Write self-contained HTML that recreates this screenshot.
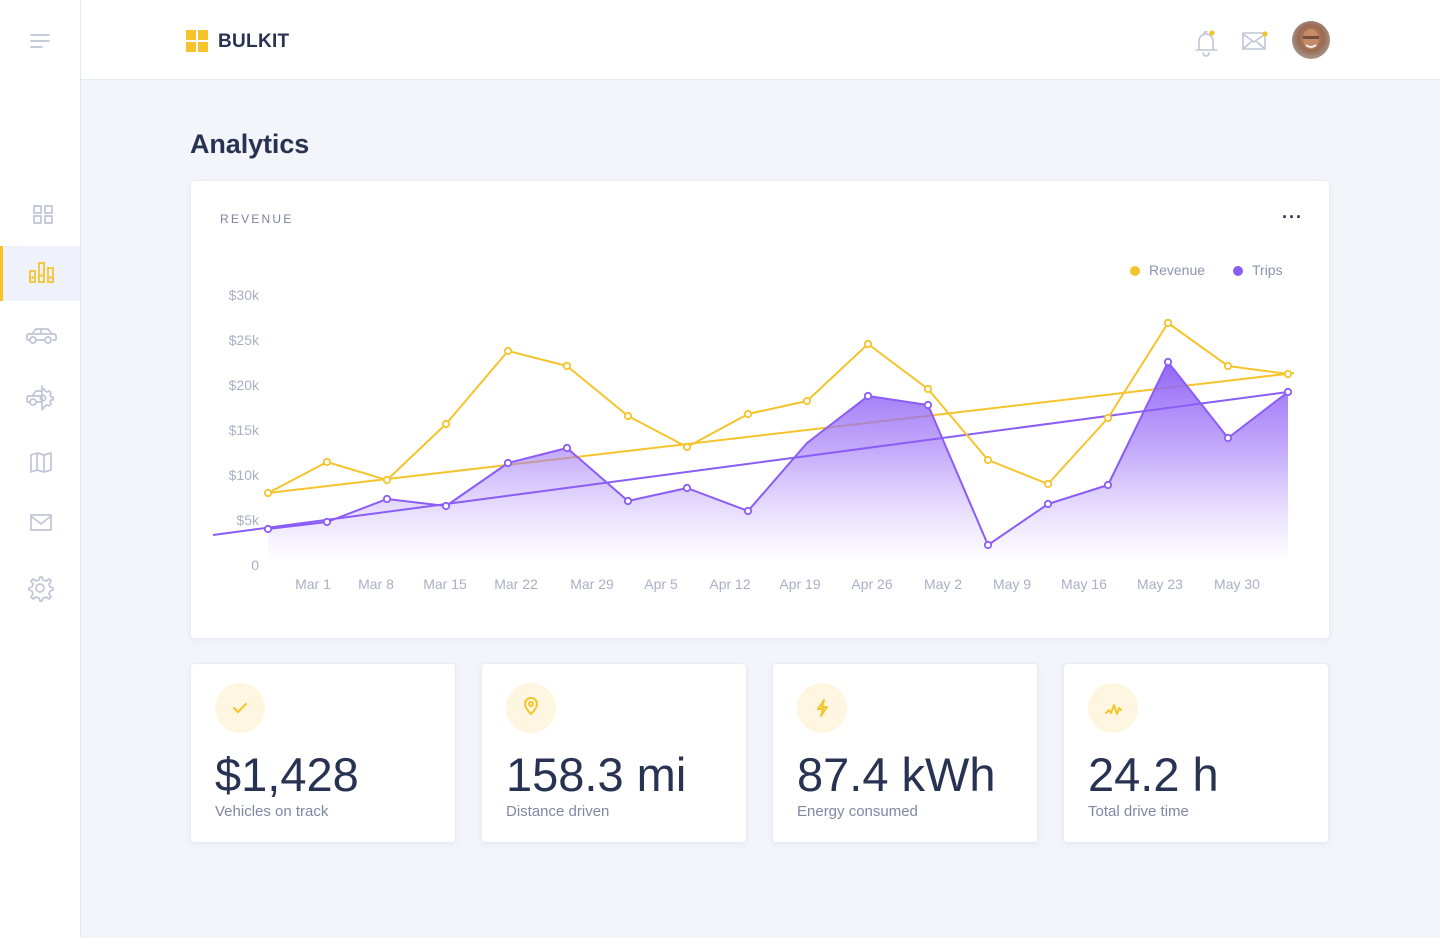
<!DOCTYPE html>
<html>
<head>
<meta charset="utf-8">
<style>
*{margin:0;padding:0;box-sizing:border-box;}
html,body{width:1440px;height:938px;overflow:hidden;background:#f4f5fa;font-family:"Liberation Sans",sans-serif;}
.sidebar{position:absolute;left:0;top:0;width:81px;height:938px;background:#fff;border-right:1px solid #e6e9f3;}
.header{position:absolute;left:81px;top:0;width:1359px;height:80px;background:#fff;border-bottom:1px solid #e6e9f3;}
.active{position:absolute;left:0;top:246px;width:80px;height:55px;background:#eff2fb;}
.active:before{content:"";position:absolute;left:0;top:0;width:3px;height:55px;background:#f7c325;}
.logo{position:absolute;left:186px;top:30px;width:22px;height:22px;}
.logo i{position:absolute;width:10px;height:10px;background:#f5c42c;}
.brand{position:absolute;left:218px;top:31px;font-size:19px;font-weight:bold;color:#283252;letter-spacing:0.3px;}
h1{position:absolute;left:190px;top:129px;font-size:27px;font-weight:bold;color:#283252;letter-spacing:-0.1px;}
.card{position:absolute;background:#fff;border:1px solid #e8ebf4;border-radius:4px;box-shadow:0 2px 6px rgba(200,205,230,0.25);}
.rev{position:absolute;left:220px;top:212px;font-size:12px;letter-spacing:2.2px;color:#7a839e;}
.dots{position:absolute;left:1282px;top:207px;font-size:18px;color:#283252;letter-spacing:1px;font-weight:bold;}
.legend{position:absolute;top:262px;font-size:14px;color:#8a94ae;}
.legend i{display:inline-block;width:10px;height:10px;border-radius:50%;margin-right:9px;vertical-align:-1px;}
.stat{position:absolute;top:663px;width:266px;height:180px;}
.ic{position:absolute;left:24px;top:19px;width:50px;height:50px;border-radius:50%;background:#fef6e0;}
.num{position:absolute;left:24px;top:83px;font-size:47px;color:#283252;line-height:56px;white-space:nowrap;}
.lbl{position:absolute;left:24px;top:139px;font-size:15px;color:#7f88a3;}
svg{position:absolute;left:0;top:0;}
</style>
</head>
<body>
<div class="sidebar"><div class="active"></div></div>
<div class="header"></div>

<div class="logo"><i style="left:0;top:0"></i><i style="left:12px;top:0"></i><i style="left:0;top:12px"></i><i style="left:12px;top:12px"></i></div>
<div class="brand">BULKIT</div>

<h1>Analytics</h1>

<div class="card" style="left:190px;top:180px;width:1140px;height:459px;"></div>
<div class="rev">REVENUE</div>
<div class="dots">···</div>
<div class="legend" style="left:1130px;"><i style="background:#f5c42c"></i>Revenue</div>
<div class="legend" style="left:1233px;"><i style="background:#8b5cf6"></i>Trips</div>

<div class="card stat" style="left:190px;"><div class="ic"></div><div class="num">$1,428</div><div class="lbl">Vehicles on track</div></div>
<div class="card stat" style="left:481px;"><div class="ic"></div><div class="num">158.3 mi</div><div class="lbl">Distance driven</div></div>
<div class="card stat" style="left:772px;"><div class="ic"></div><div class="num">87.4 kWh</div><div class="lbl">Energy consumed</div></div>
<div class="card stat" style="left:1063px;"><div class="ic"></div><div class="num">24.2 h</div><div class="lbl">Total drive time</div></div>

<svg width="1440" height="938" viewBox="0 0 1440 938">
<defs>
<linearGradient id="pg" x1="0" y1="355" x2="0" y2="562" gradientUnits="userSpaceOnUse">
<stop offset="0" stop-color="#8b5cf6" stop-opacity="0.98"/>
<stop offset="0.45" stop-color="#9d74f8" stop-opacity="0.62"/>
<stop offset="1" stop-color="#b79bfb" stop-opacity="0"/>
</linearGradient>
<radialGradient id="av" cx="50%" cy="45%" r="60%">
<stop offset="0" stop-color="#c98f6e"/>
<stop offset="0.55" stop-color="#9a6a52"/>
<stop offset="1" stop-color="#a9a29c"/>
</radialGradient>
</defs>

<!-- sidebar icons -->
<g fill="none" stroke="#bfc5d7" stroke-width="1.7" stroke-linecap="round" stroke-linejoin="round">
<line x1="31" y1="35" x2="49" y2="35"/><line x1="31" y1="41" x2="49" y2="41"/><line x1="31" y1="47" x2="42" y2="47"/>
<rect x="34" y="206" width="7" height="7"/><rect x="45" y="206" width="7" height="7"/><rect x="34" y="216" width="7" height="7"/><rect x="45" y="216" width="7" height="7"/>
<path d="M30 340 h-2 q-1 0 -1 -1 v-3 q0 -2 2 -2 h3 l4 -5 h12 l4 5 h2 q2 0 2 2 v3 q0 1 -1 1 h-2 M36 340 h9"/>
<line x1="41" y1="330" x2="41" y2="334"/><line x1="32" y1="334" x2="52" y2="334"/>
<circle cx="33" cy="340" r="3"/><circle cx="48" cy="340" r="3"/>
<path d="M30 402 h-2 q-1 0 -1 -1 v-3 q0 -2 2 -2 h3 l4 -5 h5 M36 402 h5 M32 396 h9"/>
<circle cx="33" cy="402" r="3"/>
<line x1="42" y1="386" x2="42" y2="410"/>
<path d="M42 389 h2 l1 2 l2 1 l2 -1 l2 2 l-1 2 l1 2 h2 v3 h-2 l-1 2 l1 2 l-2 2 l-2 -1 l-2 1 l-1 2 h-2"/>
<circle cx="43" cy="398" r="2.6"/>
<path d="M31 455 l6 -2 l7 2 l7 -2 v17 l-7 2 l-7 -2 l-6 2 z M37 453 v17 M44 455 v17"/>
<rect x="31" y="515" width="20" height="15"/><path d="M31 516 l10 8 l10 -8"/>
<circle cx="40" cy="588" r="4"/>
<path d="M40 577 l2 0 l1 3 l3 1 l3 -2 l2 2 l-2 3 l1 3 l3 1 v2 l-3 1 l-1 3 l2 3 l-2 2 l-3 -2 l-3 1 l-1 3 h-2 l-1 -3 l-3 -1 l-3 2 l-2 -2 l2 -3 l-1 -3 l-3 -1 v-2 l3 -1 l1 -3 l-2 -3 l2 -2 l3 2 l3 -1 z"/>
</g>
<g fill="none" stroke="#f5c42c" stroke-width="1.8">
<rect x="30" y="271" width="5" height="11"/><rect x="39" y="263" width="5" height="19"/><rect x="48" y="268" width="5" height="14"/>
</g>
<g fill="#f5c42c"><rect x="31.5" y="276" width="2" height="3"/><rect x="40.5" y="274" width="2" height="3"/><rect x="49.5" y="276" width="2" height="3"/></g>

<!-- header icons -->
<g fill="none" stroke="#bfc5d7" stroke-width="1.6" stroke-linecap="round" stroke-linejoin="round">
<path d="M1196 50 h21 M1199 50 v-9 a7 7 0 0 1 14 0 v9 M1203 53 a3 3 0 0 0 6 0 M1204 34 a2 2 0 0 1 3 -2"/>
<rect x="1243" y="33" width="22" height="16"/><path d="M1243 34 l11 8 l11 -8 M1243 49 l8 -7 M1265 49 l-8 -7"/>
</g>
<circle cx="1212" cy="33" r="2.6" fill="#f5c42c"/>
<circle cx="1265" cy="34" r="2.6" fill="#f5c42c"/>
<circle cx="1311" cy="40" r="19" fill="url(#av)"/>
<ellipse cx="1311" cy="39" rx="8" ry="10" fill="#c68a67"/>
<rect x="1303" y="36" width="16" height="3" fill="#3a2a22" opacity="0.6"/>
<path d="M1306 45 q5 4 10 0" stroke="#fff" stroke-width="1.5" fill="none"/>

<!-- stat icons -->
<g fill="none" stroke="#f5c42c" stroke-width="2" stroke-linecap="round" stroke-linejoin="round">
<path d="M234 708 l4 4 l8 -8"/>
<path d="M531 714 c-4 -4 -6 -7 -6 -10 a6 6 0 0 1 12 0 c0 3 -2 6 -6 10 z"/><circle cx="531" cy="704" r="2"/>
<path d="M824 700 l-6 9 h5 l-2 7 l6 -9 h-5 z"/>
<path d="M1106 713 l3 -3 l2 3 l3 -8 l3 9 l2 -6 l2 2"/>
</g>

<!-- y labels -->
<g font-family="Liberation Sans, sans-serif" font-size="14" fill="#a9b0c5" text-anchor="end">
<text x="259" y="300">$30k</text><text x="259" y="345">$25k</text><text x="259" y="390">$20k</text>
<text x="259" y="435">$15k</text><text x="259" y="480">$10k</text><text x="259" y="525">$5k</text><text x="259" y="570">0</text>
</g>
<g font-family="Liberation Sans, sans-serif" font-size="14" fill="#a9b0c5" text-anchor="middle">
<text x="313" y="589">Mar 1</text><text x="376" y="589">Mar 8</text><text x="445" y="589">Mar 15</text>
<text x="516" y="589">Mar 22</text><text x="592" y="589">Mar 29</text><text x="661" y="589">Apr 5</text>
<text x="730" y="589">Apr 12</text><text x="800" y="589">Apr 19</text><text x="872" y="589">Apr 26</text>
<text x="943" y="589">May 2</text><text x="1012" y="589">May 9</text><text x="1084" y="589">May 16</text>
<text x="1160" y="589">May 23</text><text x="1237" y="589">May 30</text>
</g>

<!-- chart -->
<line x1="268" y1="493" x2="1294" y2="373" stroke="#f5c42c" stroke-width="2"/>
<path d="M268,562 L268,529 327,522 387,499 446,506 508,463 567,448 628,501 687,488 748,511 807,443 868,396 928,405 988,545 1048,504 1108,485 1168,362 1228,438 1288,392 L1288,562 Z" fill="url(#pg)"/>
<line x1="213" y1="535" x2="1288" y2="392" stroke="#8b5cf6" stroke-width="2"/>
<polyline fill="none" stroke="#8b5cf6" stroke-width="2" stroke-linejoin="round" points="268,529 327,522 387,499 446,506 508,463 567,448 628,501 687,488 748,511 807,443 868,396 928,405 988,545 1048,504 1108,485 1168,362 1228,438 1288,392"/>
<polyline fill="none" stroke="#f5c42c" stroke-width="2" stroke-linejoin="round" points="268,493 327,462 387,480 446,424 508,351 567,366 628,416 687,447 748,414 807,401 868,344 928,389 988,460 1048,484 1108,418 1168,323 1228,366 1288,374"/>
<g fill="#fff" stroke="#f5c42c" stroke-width="1.8">
<circle cx="268" cy="493" r="3.2"/><circle cx="327" cy="462" r="3.2"/><circle cx="387" cy="480" r="3.2"/><circle cx="446" cy="424" r="3.2"/>
<circle cx="508" cy="351" r="3.2"/><circle cx="567" cy="366" r="3.2"/><circle cx="628" cy="416" r="3.2"/><circle cx="687" cy="447" r="3.2"/>
<circle cx="748" cy="414" r="3.2"/><circle cx="807" cy="401" r="3.2"/><circle cx="868" cy="344" r="3.2"/><circle cx="928" cy="389" r="3.2"/>
<circle cx="988" cy="460" r="3.2"/><circle cx="1048" cy="484" r="3.2"/><circle cx="1108" cy="418" r="3.2"/><circle cx="1168" cy="323" r="3.2"/>
<circle cx="1228" cy="366" r="3.2"/><circle cx="1288" cy="374" r="3.2"/>
</g>
<g fill="#fff" stroke="#8b5cf6" stroke-width="1.8">
<circle cx="268" cy="529" r="3.2"/><circle cx="327" cy="522" r="3.2"/><circle cx="387" cy="499" r="3.2"/><circle cx="446" cy="506" r="3.2"/>
<circle cx="508" cy="463" r="3.2"/><circle cx="567" cy="448" r="3.2"/><circle cx="628" cy="501" r="3.2"/><circle cx="687" cy="488" r="3.2"/>
<circle cx="748" cy="511" r="3.2"/><circle cx="868" cy="396" r="3.2"/><circle cx="928" cy="405" r="3.2"/>
<circle cx="988" cy="545" r="3.2"/><circle cx="1048" cy="504" r="3.2"/><circle cx="1108" cy="485" r="3.2"/><circle cx="1168" cy="362" r="3.2"/>
<circle cx="1228" cy="438" r="3.2"/><circle cx="1288" cy="392" r="3.2"/>
</g>
</svg>
</body>
</html>
